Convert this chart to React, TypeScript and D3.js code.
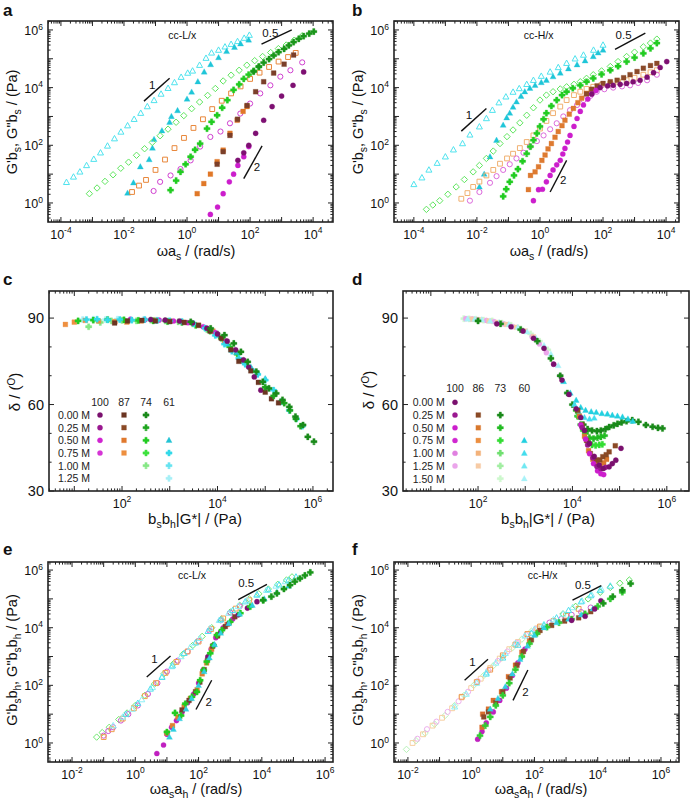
import React from "react";
import * as d3 from "d3";

type Pt = [number, number];

// ---------------- Panel a (cc-L/x, shifted by a_s, b_s) ----------------
const aCyanOpen: Pt[] = [[1.5e-4,5.2],[2.5e-4,8],[4e-4,12],[6.5e-4,20],[1.1e-3,33],[1.8e-3,55],[3e-3,95],[5e-3,170],[8e-3,290],[1.3e-2,480],[2.1e-2,800],[3.4e-2,1300],[5.5e-2,2200],[9e-2,3600],[0.15,6000],[0.25,9500],[0.4,1.5e4],[0.65,2.3e4],[1.05,3.2e4],[1.5,3.8e4],[2.5,6e4],[4,1.05e5],[6,1.6e5],[10,2e5],[16,2.6e5],[25,3.2e5],[40,4e5],[65,5.2e5],[95,6.6e5]];
const aCyanFilled: Pt[] = [[1.3e-2,2.2],[2e-2,5],[3.3e-2,18],[6.3e-2,32],[8e-2,80],[9e-2,160],[0.16,320],[0.28,630],[0.32,1000],[0.5,1600],[1,4000],[1.4,7000],[2.2,1.6e4],[3.5,3.5e4],[5.6,6.3e4],[10,1.1e5],[18,1.8e5],[32,2.5e5],[50,3.3e5],[90,4.5e5]];
const aGreenOpen: Pt[] = [[8e-4,2.1],[1.4e-3,3.3],[2.5e-3,5.6],[4.5e-3,9.5],[7.9e-3,16],[1.4e-2,26],[2.5e-2,45],[4.5e-2,76],[7.9e-2,126],[0.14,214],[0.25,363],[0.45,630],[0.79,1070],[1.4,1860],[2.5,3160],[4.5,5370],[7.9,9330],[14,1.7e4],[25,2.7e4],[45,4e4],[79,6e4],[140,8.6e4],[250,1.2e5],[450,1.65e5],[790,2.25e5],[1400,3e5],[2500,4.4e5],[4500,6.3e5]];
const aGreenFilled: Pt[] = [[0.3,2.8],[0.45,6],[0.62,12],[0.9,22],[1.3,40],[1.8,70],[2.6,115],[4.3,380],[6,650],[9,1100],[13,2000],[19,3700],[30,8300],[45,1.3e4],[63,2e4],[90,2.8e4],[130,3.8e4],[190,5.2e4]];
const aDkGreenFilled: Pt[] = [[130,3.6e4],[190,5.4e4],[270,7.4e4],[400,9.8e4],[560,1.3e5],[800,1.7e5],[1200,2.2e5],[1700,2.9e5],[2400,3.8e5],[3500,4.9e5],[5000,6.1e5],[7500,7.5e5],[1.05e4,8.8e5]];
const aOrangeOpen: Pt[] = [[1.8e-2,2.4],[3e-2,4],[5e-2,6.3],[0.1,14],[0.2,32],[0.4,80],[0.8,180],[1.6,400],[3.2,800],[6.3,1800],[12.6,3500],[25,6300],[50,1.1e4],[100,2e4],[200,3.3e4],[400,5.2e4],[800,8e4],[1600,1.15e5],[2800,1.6e5]];
const aOrangeFilled: Pt[] = [[2.1,2.1],[3.4,4.7],[5.5,10],[9,27],[14,68],[23,260],[39,740],[60,1500],[80,2200]];
const aBrownFilled: Pt[] = [[9,22],[14,60],[23,220],[40,800],[80,2400],[150,7200],[270,1.6e4],[560,3.2e4],[1200,6.5e4],[2400,1.35e5]];
const aMagentaOpen: Pt[] = [[8.7e-2,2.6],[0.14,5.4],[0.3,9],[0.62,15],[1.3,30],[2.6,90],[5.5,195],[11.5,300],[23,580],[49,1260],[100,2800],[210,6300],[440,1.2e4],[910,2.4e4],[1900,4e4],[4500,7.5e4]];
const aMagentaFilled: Pt[] = [[5.5,0.4],[9.3,0.72],[14,2.1],[22,5.4],[30,10],[41,20],[63,40],[91,90]];
const aPurpleFilled: Pt[] = [[41,30],[63,55],[91,100],[150,260],[270,740],[500,2200],[1000,5100],[2300,1.2e4],[5000,3.5e4]];

// ---------------- Panel b (cc-H/x) ----------------
const bCyanOpen: Pt[] = [[1e-4,4.4],[1.8e-4,7.5],[3e-4,14],[5.5e-4,24],[1e-3,40],[1.8e-3,70],[3.5e-3,115],[6e-3,230],[1.2e-2,440],[2e-2,850],[3.1e-2,1650],[5e-2,3000],[8.3e-2,4800],[0.14,7000],[0.22,9300],[0.38,1.3e4],[0.62,1.8e4],[1.1,2.5e4],[2.1,3.5e4],[3.8,5e4],[7,7e4],[13,1e5],[24,1.35e5],[50,2e5],[100,3e5]];
const bCyanFilled: Pt[] = [[1.2e-2,3.6],[1.7e-2,10],[2.6e-2,40],[4.2e-2,150],[6.8e-2,500],[8.8e-2,900],[0.11,1300],[0.14,2100],[0.18,3200],[0.25,5000],[0.33,7200],[0.48,9500],[0.7,1.2e4],[1.1,1.5e4],[1.6,1.8e4],[2.6,2.4e4],[4.4,3.2e4],[8,4.5e4],[15,6.2e4],[27,8.5e4],[49,1.2e5],[70,1.6e5],[100,2e5]];
const bGreenOpen: Pt[] = [[2.5e-4,0.6],[4e-4,0.85],[6.6e-4,1.2],[1.2e-3,2],[2.2e-3,3.6],[4e-3,6.5],[7.6e-3,12],[1.2e-2,20],[2e-2,35],[3.3e-2,63],[5.4e-2,115],[9e-2,200],[0.14,340],[0.23,600],[0.38,1100],[0.62,2000],[1,3700],[1.6,5500],[2.6,7200],[4.4,9000],[7,1.07e4],[12,1.3e4],[19,1.6e4],[30,2.1e4],[49,2.8e4],[90,3.8e4],[170,5.4e4],[300,8e4],[560,1.2e5],[1000,1.7e5],[1900,2.6e5],[3200,3.5e5],[5100,4.8e5]];
const bGreenFilled: Pt[] = [[6.8e-2,1.7],[8.5e-2,3],[0.11,5.4],[0.15,9],[0.2,15],[0.28,28],[0.38,51],[0.5,90],[0.62,150],[0.8,260],[1,450],[1.3,800],[1.6,1300],[2.3,2300],[3.4,3700],[5,5500],[7,7200],[11,9500],[19,1.2e4],[30,1.6e4],[49,2.1e4],[90,2.9e4],[170,4e4],[300,5.5e4],[560,8e4],[1000,1.1e5],[1900,1.55e5],[3200,2.3e5],[5100,3.5e5]];
const bOrangeOpen: Pt[] = [[3.2e-3,1.4],[5e-3,2.2],[7.6e-3,3.6],[1.2e-2,5.5],[2e-2,9],[3.3e-2,14],[5.4e-2,23],[9e-2,35],[0.14,51],[0.23,80],[0.38,130],[0.62,220],[1,380],[1.6,700],[2.6,1300],[4.4,2200],[7,3700],[12,5500],[19,7200],[30,9000],[49,1.07e4],[90,1.25e4],[170,1.4e4],[300,1.6e4],[560,1.8e4],[1000,2.2e4],[1900,2.8e4],[3200,3.4e4],[5100,4e4]];
const bOrangeFilled: Pt[] = [[0.43,2.9],[0.5,9],[0.7,12],[0.9,18],[1.15,30],[1.45,46],[1.8,75],[2.3,115],[3,190],[3.8,300],[5,480],[6.2,740],[8.5,1200],[11.5,1900],[16,3000],[21,4300],[30,6300],[44,8700]];
const bBrownFilled: Pt[] = [[30,6000],[44,8700],[65,1.15e4],[100,1.4e4],[170,1.6e4],[280,1.8e4],[450,2.2e4],[720,2.8e4],[1200,3.6e4],[1900,4.7e4],[3200,5.8e4],[5100,6.9e4]];
const bMagentaOpen: Pt[] = [[6e-3,1.2],[1.2e-2,2.4],[2.6e-2,5],[4.2e-2,8.5],[6.8e-2,14],[0.11,22],[0.18,35],[0.3,55],[0.48,90],[0.8,140],[1.3,220],[2.1,360],[3.4,580],[5.5,1000],[9,1650],[15,2500],[24,3700],[40,5200],[63,7200],[110,8800],[210,1e4],[400,1.1e4],[720,1.2e4],[1300,1.45e4],[2500,1.8e4],[5100,2.8e4]];
const bMagentaFilled: Pt[] = [[0.62,1.2],[0.9,2.9],[1.2,3],[1.6,5.4],[2.1,9],[2.6,14],[3.4,21],[4.4,30],[5.3,50],[6.2,78],[7.5,130],[9,220],[12,450],[15,850],[19,1500],[24,2500],[33,4000],[44,6000],[60,8000]];
const bPurpleFilled: Pt[] = [[44,6000],[81,1e4],[140,1.15e4],[210,1.2e4],[350,1.3e4],[560,1.4e4],[900,1.6e4],[1500,1.8e4],[2500,2.3e4],[4000,3.3e4],[6500,5e4],[1.05e4,8e4]];

// ---------------- Panel c (delta vs bs bh |G*|, cc-L/x) ----------------
const cOrange: Pt[] = [[6.5,87.8],[10,88.6],[17,89.2],[32,89],[71,88.8],[126,88.6],[250,89],[500,89.3],[1000,89],[2000,88.5],[4000,87.5],[8000,85.5],[1.4e4,82],[2.5e4,78]];
const cBrown: Pt[] = [[70,88.3],[130,89],[260,89.2],[500,89],[1000,88.8],[2000,88.5],[4000,87.5],[7000,85.5],[1.2e4,83],[1.9e4,79],[2.8e4,75],[5e4,71.7],[7.2e4,67.7],[1e5,64.3],[1.35e5,62],[1.9e5,60.6]];
const cPurple: Pt[] = [[400,89.5],[800,89.3],[1600,89],[3000,88.3],[6000,86.5],[1e4,84.5],[1.6e4,82],[2.4e4,79],[3.5e4,75.5],[4.5e4,73],[5.9e4,69.6],[8.1e4,65]];
const cMagenta: Pt[] = [[150,89.6],[300,89.4],[600,89.3],[1200,89],[2400,88.4],[5000,87],[9000,85],[1.5e4,82]];
const cGreen: Pt[] = [[12,89],[25,89.3],[50,89.5],[110,89.4],[220,89.2],[450,89],[900,88.8],[1800,88.5],[3500,87.5],[7000,85.5],[1.2e4,83],[1.8e4,80],[2.6e4,77.5],[3.6e4,75]];
const cLtGreen: Pt[] = [[20,87],[35,88.5],[60,89],[100,89.2],[200,89],[400,89.3],[800,89],[1500,88.7],[3000,88],[6000,86],[1e4,84.5]];
const cDkGreen: Pt[] = [[2750,88.7],[7200,86.4],[1.4e4,84.1],[2.2e4,81.2],[3.1e4,78.3],[4.3e4,74.8],[6.5e4,71.4],[8.9e4,67.9],[1.2e5,65.6],[1.7e5,63.9],[2.3e5,61.6],[3.2e5,59.2],[4.3e5,55.8],[6.2e5,52.9],[7.8e5,48.8],[1.05e6,47.1]];
const cGreen25: Pt[] = [[1e5,66],[1.5e5,63],[2.5e5,60.5],[3.3e5,58],[4.4e5,55],[5.5e5,52.5]];
const cCyan: Pt[] = [[18,89.5],[30,89.6],[50,89.4],[90,89.5],[160,89.3],[300,89.5],[550,89.2],[1000,89],[1800,88.8],[3200,88],[5500,86.5],[9000,84],[1.4e4,81],[2e4,78.5],[2.8e4,76],[3.8e4,74],[5.2e4,72],[7e4,70.5],[1e5,68.5],[1.5e5,65],[2.2e5,61],[3.2e5,58],[4.5e5,55],[6e5,52.5]];
const cLtCyan: Pt[] = [[15,89.5],[25,89.6],[45,89.5],[80,89.6],[150,89.5],[280,89.4],[500,89.2],[900,89]];
const cCyanTri: Pt[] = [[1e4,84],[1.6e4,81],[2.5e4,78],[3.6e4,75],[5e4,73],[7e4,71],[1e5,69]];

// ---------------- Panel d (delta vs bs bh |G*|, cc-H/x) ----------------
const dPink: Pt[] = [[55,89.8],[75,89.7],[100,89.5],[150,89.2],[220,88.8],[350,88],[550,87],[900,85.5],[1400,83.5],[2000,81],[2800,78],[4000,74],[5500,70]];
const dLtOrange: Pt[] = [[75,89.6],[110,89.4],[170,89],[260,88.5],[400,87.8],[650,86.8],[1000,85.5],[1500,83.5]];
const dLtGreen: Pt[] = [[50,89.8],[65,89.7],[90,89.6],[130,89.3],[200,89],[320,88.3],[500,87.5],[800,86.3],[1300,84.5],[2000,82],[3000,79]];
const dLtCyan: Pt[] = [[60,89.7],[85,89.6],[120,89.4],[180,89],[280,88.5],[450,87.8],[700,86.8],[1100,85.2],[1700,83],[2500,80.5],[3500,77.5],[5000,73.5]];
const dPurple0: Pt[] = [[250,88],[500,87],[900,85.5],[1500,83],[2500,79.5],[4000,74],[6000,68.5],[8500,63.5],[1.2e4,58.5],[1.5e4,55.5],[1.8e4,51],[2.3e4,46.5],[2.9e4,42],[3.7e4,39],[4.5e4,37.8],[6e4,38.4],[7e4,39.5],[8.3e4,40.7],[1.07e5,44.8]];
const dMagenta: Pt[] = [[1.5e4,53],[1.9e4,48],[2.3e4,43],[2.8e4,39.5],[3.4e4,37],[4e4,36],[4.6e4,35.7]];
const dPurple25: Pt[] = [[1.6e4,52],[2.1e4,46],[2.7e4,41.5],[3.3e4,38.5],[4e4,37.8],[5e4,38.2]];
const dBrown: Pt[] = [[1.3e4,58],[1.6e4,53],[2e4,47.5],[2.4e4,43],[3.2e4,40.7],[3.8e4,40.8],[4.4e4,41.9],[5.2e4,42.6],[6e4,43.6],[8.1e4,45.7]];
const dOrange: Pt[] = [[1.4e4,56],[1.8e4,49],[2.2e4,44],[2.7e4,41],[3.2e4,39.5],[3.9e4,39],[4.6e4,39.8],[5.3e4,41]];
const dDkGreen: Pt[] = [[100,89],[300,88],[800,86],[1800,82],[3500,76],[5500,70],[7800,64],[1e4,60],[1.3e4,56],[1.7e4,53],[2.1e4,51.5],[2.6e4,51],[3.3e4,50.8],[4e4,51],[5e4,51.5],[6e4,52.2],[7.5e4,52.8],[9e4,53.3],[1.1e5,53.8],[1.4e5,54.2],[1.85e5,54.6],[2.5e5,54],[3.6e5,52.9],[5e5,52.3],[6.5e5,51.9],[8.1e5,51.7]];
const dGreen50: Pt[] = [[1.2e4,58],[1.5e4,53],[1.9e4,50],[2.3e4,48.5],[2.8e4,48.2],[3.4e4,48.5],[4e4,48.8],[4.8e4,49.2]];
const dGreen75: Pt[] = [[1.3e4,56],[1.7e4,51],[2.1e4,47.5],[2.6e4,46],[3.1e4,45.8],[3.7e4,46],[4.3e4,46.2]];
const dCyanTri: Pt[] = [[6500,68],[9000,64],[1.2e4,61.5],[1.5e4,59],[1.9e4,58],[2.5e4,57.5],[3.2e4,57.3],[4.2e4,56.9],[5.5e4,56.7],[7e4,56.3],[9e4,56],[1.15e5,55.7],[1.5e5,55],[1.9e5,54.2]];
const dCyan100: Pt[] = [[1.1e4,60],[1.4e4,57],[1.8e4,55.5],[2.3e4,55],[2.9e4,55.3]];

// ---------------- Panel e (master curves cc-L/x) ----------------
const eGreenOpen: Pt[] = [[6e-2,1.6],[9e-2,2.3],[0.15,3.5],[0.3,6.5],[0.55,11],[1,20],[2,45],[4,110],[8,250],[16,560],[32,1200],[65,2400],[130,5000],[260,1e4],[520,2e4],[1000,3.5e4],[2000,6e4],[4000,1e5],[8000,1.5e5],[1.6e4,2.2e5],[3.2e4,3.2e5],[6e4,4.5e5],[9e4,5.8e5]];
const eMagentaOpen: Pt[] = [[0.1,1.8],[0.14,2.6],[0.2,3.5],[0.35,6],[0.6,10],[1.2,20],[2.5,50],[5,120],[10,300],[22,720],[45,1500],[100,3500],[220,8000],[500,1.8e4],[1000,3.3e4],[2000,5.5e4]];
const eOrangeOpen: Pt[] = [[0.1,1.6],[0.18,3],[0.4,7],[0.9,16],[2,42],[4.5,120],[9,270],[20,650],[45,1500],[100,3300],[250,9000],[600,2.1e4],[1500,4.6e4],[4000,9e4]];
const eCyanOpen: Pt[] = [[0.5,10],[1.2,24],[3,75],[7,190],[15,480],[35,1300],[80,3000],[200,7500],[500,1.9e4],[1200,4e4],[3000,8e4],[7000,1.4e5],[1.6e4,2.1e5],[3.5e4,3.1e5],[7e4,4.5e5],[1.2e5,5.8e5]];
const eLtCyanOpen: Pt[] = [[0.2,4],[0.4,8],[0.8,15],[1.6,32],[3.5,85],[7,200],[14,450],[28,1000],[55,2100],[110,4300],[230,9500],[450,1.8e4],[900,3.2e4],[1800,5.5e4],[3500,9e4],[7000,1.35e5],[1.4e4,2e5],[2.8e4,2.8e5],[5.5e4,4e5]];
const eMagentaFilled: Pt[] = [[4.8,0.43],[7.8,0.85],[10,2],[14,3.5],[20,6],[30,12],[45,25],[70,50],[100,120],[140,330],[190,800],[250,1800],[350,4500],[600,1e4],[1200,2e4]];
const ePurpleFilled: Pt[] = [[200,1000],[300,2500],[500,7000],[900,1.4e4],[1800,2.8e4],[3500,4.8e4],[7000,8e4]];
const eOrangeFilled: Pt[] = [[10,2.2],[15,4],[22,8],[35,18],[55,35],[90,70],[130,250],[180,600],[260,1800],[400,5500],[800,1.3e4]];
const eBrownFilled: Pt[] = [[30,14],[50,30],[80,60],[110,130],[150,350],[200,900],[280,2300],[400,5200],[700,1.1e4],[1400,2.4e4]];
const eGreenFilled: Pt[] = [[10,2.4],[18,11],[28,9],[38,23],[62,40],[89,59],[112,150],[145,340],[182,660],[234,1300],[295,2500],[380,5500],[550,8300],[1000,1.6e4],[2100,3.2e4],[4300,5.4e4],[1.1e4,9e4]];
const eDkGreenFilled: Pt[] = [[1.1e4,9e4],[2e4,1.2e5],[3e4,1.55e5],[5e4,2.2e5],[7.8e4,3e5],[1.1e5,4e5],[1.6e5,5.1e5],[2.3e5,6.5e5],[3.4e5,8.3e5]];
const eCyanFilled: Pt[] = [[12,1.6],[16,3],[25,7],[40,15],[60,35],[100,100],[150,300],[220,900],[320,2600],[500,6500],[900,1.4e4],[2000,3e4],[5000,6e4],[1.2e4,1e5],[3e4,1.7e5],[7e4,2.8e5]];

// ---------------- Panel f (master curves cc-H/x) ----------------
const fPaleGreenOpen: Pt[] = [[9e-3,0.6],[1.8e-2,1.2],[3.5e-2,2.2],[7e-2,4.5],[0.15,9],[0.3,20],[0.6,45],[1.2,100],[2.5,220],[5,480],[10,1000],[20,2000],[40,4000],[80,7500],[150,1e4]];
const fPaleOrangeOpen: Pt[] = [[1.4e-2,1],[3e-2,2],[6e-2,4],[0.12,7.5],[0.25,16],[0.5,38],[1,80],[2,170],[4,400],[8,850],[16,1800],[30,3200],[60,6000],[120,9500]];
const fPalePinkOpen: Pt[] = [[2e-2,1.4],[4e-2,3],[8e-2,5.5],[0.18,12],[0.4,28],[0.8,60],[1.6,140],[3.5,330],[7,700],[14,1500],[28,3000],[55,5500],[110,9000]];
const fOrangeOpen: Pt[] = [[0.5,40],[1.5,130],[4,350],[10,1100],[25,2600],[60,6000],[150,1.1e4],[400,1.7e4],[1000,2.6e4],[2500,4.5e4]];
const fMagentaOpen: Pt[] = [[300,1.5e4],[700,2e4],[1500,2.8e4],[3000,3.5e4],[6000,5e4]];
const fCyanOpen: Pt[] = [[3,250],[10,900],[30,2500],[80,6500],[200,1.2e4],[500,2.2e4],[1200,4e4],[3000,8e4],[6000,1.3e5],[1.2e4,2e5],[2.5e4,2.8e5]];
const fLtCyanOpen: Pt[] = [[0.3,18],[0.7,50],[1.5,120],[3,280],[6,600],[12,1300],[25,2800],[50,5200],[100,8800],[200,1.3e4],[400,1.9e4],[800,3e4],[1600,5e4],[3200,8.5e4],[6400,1.4e5],[1.3e4,2.2e5]];
const fGreenOpen: Pt[] = [[800,3e4],[2000,5.5e4],[5000,1e5],[1.2e4,1.7e5],[2.5e4,2.5e5],[5e4,3.5e5],[1e5,4.5e5]];
const fMagentaFilled: Pt[] = [[1.6,1.35],[2.2,2.5],[3,5],[5,12],[8,30],[13,80],[20,220],[30,600],[50,1800]];
const fOrangeFilled: Pt[] = [[2.2,3.5],[2.3,10],[3.5,15],[5,30],[9,60],[15,200],[25,500],[40,1400],[70,3500],[130,7000]];
const fBrownFilled: Pt[] = [[2.5,8],[3.5,12],[6,25],[10,60],[17,180],[28,500],[45,1500],[80,3800],[150,8000],[350,1.2e4],[900,1.7e4],[2500,2.2e4],[6000,3.6e4]];
const fGreenFilled: Pt[] = [[1.9,1.8],[2.8,4],[4,8],[6,20],[10,45],[16,120],[25,350],[40,1000],[70,2800],[120,6300],[250,1.05e4],[600,1.5e4],[1500,2e4],[4000,3e4],[1e4,5.5e4],[2.5e4,1e5],[6e4,1.7e5]];
const fDkGreenFilled: Pt[] = [[1.5e4,7e4],[3e4,1.2e5],[6e4,2e5],[1.1e5,3.4e5]];
const fCyanFilled: Pt[] = [[4,15],[7,35],[12,90],[20,250],[35,800],[60,2300],[100,5500],[200,1e4],[500,1.5e4],[1200,2e4],[3000,2.8e4],[7000,4.5e4]];
const fPurpleFilled: Pt[] = [[1500,1.8e4],[4000,2.5e4],[8000,4.5e4],[1.26e4,8.6e4]];

// ---------------- slope guides & notes (data coordinates) ----------------
const aSlopes = [
  { p1: [0.043, 3400] as Pt, p2: [0.28, 2.1e4] as Pt, label: "1", at: [0.078, 1.2e4] as Pt },
  { p1: [230, 3.2e5] as Pt, p2: [2100, 1e6] as Pt, label: "0.5", at: [440, 7.7e5] as Pt },
  { p1: [63, 7] as Pt, p2: [240, 95] as Pt, label: "2", at: [165, 18] as Pt },
];
const bSlopes = [
  { p1: [3.2e-3, 310] as Pt, p2: [2e-2, 1900] as Pt, label: "1", at: [5.6e-3, 1100] as Pt },
  { p1: [240, 2.1e5] as Pt, p2: [2200, 7.8e5] as Pt, label: "0.5", at: [450, 6.7e5] as Pt },
  { p1: [2.1, 2.4] as Pt, p2: [7, 30] as Pt, label: "2", at: [5.5, 6.2] as Pt },
];
const eSlopes = [
  { p1: [2.3, 195] as Pt, p2: [13, 1050] as Pt, label: "1", at: [4, 850] as Pt },
  { p1: [1800, 9.5e4] as Pt, p2: [1.45e4, 3.2e5] as Pt, label: "0.5", at: [3200, 3.5e5] as Pt },
  { p1: [83, 14.5] as Pt, p2: [260, 150] as Pt, label: "2", at: [210, 27] as Pt },
];
const fSlopes = [
  { p1: [0.62, 150] as Pt, p2: [3.4, 810] as Pt, label: "1", at: [1.1, 650] as Pt },
  { p1: [1600, 9e4] as Pt, p2: [1.3e4, 2.9e5] as Pt, label: "0.5", at: [3400, 3e5] as Pt },
  { p1: [21, 30] as Pt, p2: [62, 340] as Pt, label: "2", at: [52, 59] as Pt },
];

// ---------------- tick labels ----------------
const abXTicks = [1e-4, 1e-2, 1, 1e2, 1e4];
const modYTicks = [1, 1e2, 1e4, 1e6];
const cdXTicks = [1e2, 1e4, 1e6];
const cdYTicks = [30, 60, 90];
const cdYMinor = [40, 50, 70, 80];
const efXTicks = [1e-2, 1, 1e2, 1e4, 1e6];

// ---------------- legends ----------------
const cConc = ["100", "87", "74", "61"];
const cSalt = ["0.00 M", "0.25 M", "0.50 M", "0.75 M", "1.00 M", "1.25 M"];
const cHas = [[1,1,1,0],[1,1,1,0],[1,1,1,1],[1,1,1,1],[0,0,1,1],[0,0,0,1]];
const dConc = ["100", "86", "73", "60"];
const dSalt = ["0.00 M", "0.25 M", "0.50 M", "0.75 M", "1.00 M", "1.25 M", "1.50 M"];
const dHas = [[1,0,0,0],[1,1,1,0],[1,1,1,0],[1,1,1,1],[1,1,1,1],[1,1,1,1],[0,0,1,1]];

// ======================= drawing =======================
const FONT = "'Liberation Sans', Arial, Helvetica, sans-serif";
type Shape = "circle" | "square" | "tri" | "cross" | "diamond";
interface Ser { d: Pt[]; s: Shape; c: string; open?: boolean }

const SHAPES: Record<Shape, string> = {
  circle: d3.symbol().type(d3.symbolCircle).size(21)() as string,
  square: "M-2.4,-2.4H2.4V2.4H-2.4Z",
  tri: "M0,-3.2L3,2.2H-3Z",
  diamond: "M0,-3.2L3.2,0L0,3.2L-3.2,0Z",
  cross: "M-1.15,-3.1H1.15V-1.15H3.1V1.15H1.15V3.1H-1.15V1.15H-3.1V-1.15H-1.15Z M0,-2.5L2.5,0L0,2.5L-2.5,0Z",
};

const C = {
  cyanL: "#4FE3EE", cyan: "#1FC6D8",
  greenL: "#5EE65E", green: "#22CC22", dkGreen: "#1A961A",
  orange: "#E8873A", orangeF: "#E07828", brown: "#7B3F2A",
  magenta: "#D040D0", magentaF: "#CC1ECC", purple: "#7E1072",
};

interface Slope { p1: Pt; p2: Pt; label: string; at: Pt }
interface Cfg {
  key: string; letter: string; lx: number; ly: number;
  x0: number; x1: number; y0: number; y1: number;
  xDom: [number, number]; yDom: [number, number]; yLog: boolean;
  xLabels: number[]; yLabels: number[]; yMinor?: number[];
  series: Ser[]; slopes?: Slope[]; note?: { text: string; at: Pt };
  xTitle: React.ReactNode; yTitle: React.ReactNode; titleFs: number;
  xTitleX: number; xTitleY: number; yTitleX: number; yTitleY: number;
  legend?: { conc: string[]; salt: string[]; has: number[][]; colors: string[][]; shapes: Shape[][];
    lx: number; hy: number; ry: number; dy: number; cols: number[] };
}

function logTicks(dom: [number, number]) {
  const lo = Math.log10(dom[0]), hi = Math.log10(dom[1]);
  const majors: number[] = [], minors: number[] = [];
  for (let e = Math.floor(lo); e <= Math.ceil(hi); e++) {
    const m = Math.pow(10, e);
    if (m >= dom[0] && m <= dom[1]) majors.push(m);
    for (let k = 2; k <= 9; k++) {
      const v = k * m;
      if (v >= dom[0] && v <= dom[1]) minors.push(v);
    }
  }
  return { majors, minors };
}

function Pow({ v, x, y, anchor, fs }: { v: number; x: number; y: number; anchor: string; fs: number }) {
  const e = Math.round(Math.log10(v));
  return (
    <text x={x} y={y} textAnchor={anchor} fontSize={fs} fill="#111">
      <tspan>10</tspan>
      <tspan dy={-fs * 0.42} fontSize={fs * 0.68}>{String(e)}</tspan>
    </text>
  );
}

function Panel({ cfg }: { cfg: Cfg }) {
  const { x0, x1, y0, y1 } = cfg;
  const xs = d3.scaleLog().domain(cfg.xDom).range([x0, x1]);
  const ys: any = cfg.yLog
    ? d3.scaleLog().domain(cfg.yDom).range([y1, y0])
    : d3.scaleLinear().domain(cfg.yDom).range([y1, y0]);
  const xt = logTicks(cfg.xDom);
  const yt = cfg.yLog ? logTicks(cfg.yDom) : { majors: cfg.yLabels, minors: cfg.yMinor || [] };
  const TM = 5, Tm = 2.6;
  const clip = "clip-" + cfg.key;
  const lines: React.ReactNode[] = [];
  xt.majors.forEach((v, i) => {
    const X = xs(v);
    lines.push(<line key={"xM" + i} x1={X} x2={X} y1={y1} y2={y1 - TM} />);
    lines.push(<line key={"xMt" + i} x1={X} x2={X} y1={y0} y2={y0 + TM} />);
  });
  xt.minors.forEach((v, i) => {
    const X = xs(v);
    lines.push(<line key={"xm" + i} x1={X} x2={X} y1={y1} y2={y1 - Tm} />);
    lines.push(<line key={"xmt" + i} x1={X} x2={X} y1={y0} y2={y0 + Tm} />);
  });
  yt.majors.forEach((v, i) => {
    const Y = ys(v);
    lines.push(<line key={"yM" + i} x1={x0} x2={x0 + TM} y1={Y} y2={Y} />);
    lines.push(<line key={"yMr" + i} x1={x1} x2={x1 - TM} y1={Y} y2={Y} />);
  });
  yt.minors.forEach((v, i) => {
    const Y = ys(v);
    lines.push(<line key={"ym" + i} x1={x0} x2={x0 + Tm} y1={Y} y2={Y} />);
    lines.push(<line key={"ymr" + i} x1={x1} x2={x1 - Tm} y1={Y} y2={Y} />);
  });

  return (
    <g>
      <defs>
        <clipPath id={clip}><rect x={x0} y={y0} width={x1 - x0} height={y1 - y0} /></clipPath>
      </defs>
      <g clipPath={`url(#${clip})`}>
        {cfg.series.map((s, si) => (
          <g key={si} fill={s.open ? "none" : s.c} stroke={s.c} strokeWidth={s.open ? 1 : 0.3}>
            {s.d.map((p, pi) => (
              <path key={pi} d={SHAPES[s.s]} transform={`translate(${xs(p[0]).toFixed(2)},${ys(p[1]).toFixed(2)})`} />
            ))}
          </g>
        ))}
        {(cfg.slopes || []).map((sl, i) => (
          <g key={"sl" + i}>
            <line x1={xs(sl.p1[0])} y1={ys(sl.p1[1])} x2={xs(sl.p2[0])} y2={ys(sl.p2[1])} stroke="#111" strokeWidth={1.4} />
            <text x={xs(sl.at[0])} y={ys(sl.at[1])} dy={4} textAnchor="middle" fontSize={11.5} fill="#111">{sl.label}</text>
          </g>
        ))}
        {cfg.note && (
          <text x={xs(cfg.note.at[0])} y={ys(cfg.note.at[1])} dy={4} textAnchor="middle" fontSize={10.5} fill="#111">{cfg.note.text}</text>
        )}
      </g>
      {cfg.legend && (() => {
        const L = cfg.legend!;
        return (
          <g fontSize={10.5} fill="#222">
            {L.conc.map((t, j) => (
              <text key={"h" + j} x={L.cols[j]} y={L.hy + 4} textAnchor="middle">{t}</text>
            ))}
            {L.salt.map((t, r) => (
              <g key={"r" + r}>
                <text x={L.lx} y={L.ry + r * L.dy + 4}>{t}</text>
                {L.has[r].map((h, j) => h ? (
                  <path key={j} d={SHAPES[L.shapes[j][r]]} fill={L.colors[j][r]} stroke={L.colors[j][r]} strokeWidth={0.3}
                    transform={`translate(${L.cols[j]},${L.ry + r * L.dy})`} />
                ) : null)}
              </g>
            ))}
          </g>
        );
      })()}
      <g stroke="#222" strokeWidth={1}>{lines}</g>
      <rect x={x0} y={y0} width={x1 - x0} height={y1 - y0} fill="none" stroke="#222" strokeWidth={1.6} />
      {cfg.xLabels.map((v, i) => (
        <Pow key={"xl" + i} v={v} x={xs(v)} y={y1 + 16.5} anchor="middle" fs={12.5} />
      ))}
      {cfg.yLog
        ? cfg.yLabels.map((v, i) => <Pow key={"yl" + i} v={v} x={x0 - 5} y={ys(v) + 5} anchor="end" fs={12.5} />)
        : cfg.yLabels.map((v, i) => (
            <text key={"yl" + i} x={x0 - 5} y={ys(v) + 5} textAnchor="end" fontSize={14.5} fill="#111">{String(v)}</text>
          ))}
      <text x={cfg.xTitleX} y={cfg.xTitleY} textAnchor="middle" fontSize={cfg.titleFs} fill="#111">{cfg.xTitle}</text>
      <text transform={`translate(${cfg.yTitleX},${cfg.yTitleY}) rotate(-90)`} textAnchor="middle" fontSize={cfg.titleFs} fill="#111">{cfg.yTitle}</text>
      <text x={cfg.lx} y={cfg.ly} fontSize={17} fontWeight="bold" fill="#111">{cfg.letter}</text>
    </g>
  );
}

export default function App() {
  const xTitleAB = (<><tspan>ωa</tspan><tspan dy={4} fontSize={10.5}>s</tspan><tspan dy={-4}> / (rad/s)</tspan></>);
  const yTitleAB = (<><tspan>G'b</tspan><tspan dy={4} fontSize={10.5}>s</tspan><tspan dy={-4}>, G"b</tspan><tspan dy={4} fontSize={10.5}>s</tspan><tspan dy={-4}> / (Pa)</tspan></>);
  const xTitleCD = (<><tspan>b</tspan><tspan dy={4} fontSize={10.5}>s</tspan><tspan dy={-4}>b</tspan><tspan dy={4} fontSize={10.5}>h</tspan><tspan dy={-4}>|G*| / (Pa)</tspan></>);
  const yTitleCD = (<><tspan>δ / (</tspan><tspan dy={-5} fontSize={10}>O</tspan><tspan dy={5}>)</tspan></>);
  const xTitleEF = (<><tspan>ωa</tspan><tspan dy={4} fontSize={10.5}>s</tspan><tspan dy={-4}>a</tspan><tspan dy={4} fontSize={10.5}>h</tspan><tspan dy={-4}> / (rad/s)</tspan></>);
  const yTitleEF = (<><tspan>G'b</tspan><tspan dy={4} fontSize={10}>s</tspan><tspan dy={-4}>b</tspan><tspan dy={4} fontSize={10}>h</tspan><tspan dy={-4}>, G"b</tspan><tspan dy={4} fontSize={10}>s</tspan><tspan dy={-4}>b</tspan><tspan dy={4} fontSize={10}>h</tspan><tspan dy={-4}> / (Pa)</tspan></>);

  const aSeries: Ser[] = [
    { d: aCyanOpen, s: "tri", c: C.cyanL, open: true },
    { d: aCyanFilled, s: "tri", c: C.cyan },
    { d: aGreenOpen, s: "diamond", c: C.greenL, open: true },
    { d: aOrangeOpen, s: "square", c: C.orange, open: true },
    { d: aMagentaOpen, s: "circle", c: C.magenta, open: true },
    { d: aGreenFilled, s: "cross", c: C.green },
    { d: aDkGreenFilled, s: "cross", c: C.dkGreen },
    { d: aOrangeFilled, s: "square", c: C.orangeF },
    { d: aBrownFilled, s: "square", c: C.brown },
    { d: aMagentaFilled, s: "circle", c: C.magentaF },
    { d: aPurpleFilled, s: "circle", c: C.purple },
  ];
  const bSeries: Ser[] = [
    { d: bCyanOpen, s: "tri", c: C.cyanL, open: true },
    { d: bCyanFilled, s: "tri", c: C.cyan },
    { d: bGreenOpen, s: "diamond", c: C.greenL, open: true },
    { d: bOrangeOpen, s: "square", c: "#F0B070", open: true },
    { d: bMagentaOpen, s: "circle", c: "#DC6ADC", open: true },
    { d: bGreenFilled, s: "cross", c: C.green },
    { d: bOrangeFilled, s: "square", c: "#DE7A30" },
    { d: bBrownFilled, s: "square", c: "#8B4A2A" },
    { d: bMagentaFilled, s: "circle", c: C.magentaF },
    { d: bPurpleFilled, s: "circle", c: C.purple },
  ];
  const cSeries: Ser[] = [
    { d: cLtCyan, s: "cross", c: "#A6F0F7" },
    { d: cLtGreen, s: "cross", c: "#86E886" },
    { d: cOrange, s: "square", c: "#EE9040" },
    { d: cMagenta, s: "circle", c: "#D024D0" },
    { d: cGreen, s: "cross", c: "#22CC22" },
    { d: cCyanTri, s: "tri", c: "#22C3D4" },
    { d: cCyan, s: "cross", c: "#33D9E9" },
    { d: cPurple, s: "circle", c: "#7A106E" },
    { d: cBrown, s: "square", c: "#6B3522" },
    { d: cGreen25, s: "cross", c: "#1FA51F" },
    { d: cDkGreen, s: "cross", c: "#1A8A1A" },
  ];
  const dSeries: Ser[] = [
    { d: dLtGreen, s: "cross", c: "#CDF8CD" },
    { d: dPink, s: "circle", c: "#EBA5EB" },
    { d: dLtOrange, s: "square", c: "#F7CBA5" },
    { d: dLtCyan, s: "tri", c: "#A8F2F8" },
    { d: dDkGreen, s: "cross", c: "#1A8A1A" },
    { d: dGreen50, s: "cross", c: "#22BB22" },
    { d: dGreen75, s: "cross", c: "#33DD33" },
    { d: dCyanTri, s: "tri", c: "#22D0E0" },
    { d: dCyan100, s: "tri", c: "#44DDEE" },
    { d: dOrange, s: "square", c: "#D8782E" },
    { d: dBrown, s: "square", c: "#8A4A26" },
    { d: dMagenta, s: "circle", c: "#CC1ECC" },
    { d: dPurple25, s: "circle", c: "#9A1890" },
    { d: dPurple0, s: "circle", c: "#7A106E" },
  ];
  const eSeries: Ser[] = [
    { d: eGreenOpen, s: "diamond", c: "#70E870", open: true },
    { d: eMagentaOpen, s: "circle", c: "#D050D0", open: true },
    { d: eOrangeOpen, s: "square", c: "#F0A050", open: true },
    { d: eLtCyanOpen, s: "tri", c: "#8EEFF5", open: true },
    { d: eCyanOpen, s: "tri", c: "#50E0EE", open: true },
    { d: eMagentaFilled, s: "circle", c: "#C020C0" },
    { d: eOrangeFilled, s: "square", c: "#E08030" },
    { d: eBrownFilled, s: "square", c: "#7B3F2A" },
    { d: ePurpleFilled, s: "circle", c: C.purple },
    { d: eGreenFilled, s: "cross", c: "#22CC22" },
    { d: eCyanFilled, s: "tri", c: "#30D0E0" },
    { d: eDkGreenFilled, s: "cross", c: "#1A961A" },
  ];
  const fSeries: Ser[] = [
    { d: fPaleGreenOpen, s: "diamond", c: "#B8F2B8", open: true },
    { d: fPaleOrangeOpen, s: "square", c: "#F6CFA0", open: true },
    { d: fPalePinkOpen, s: "circle", c: "#EDB0ED", open: true },
    { d: fOrangeOpen, s: "square", c: "#EE9A50", open: true },
    { d: fMagentaOpen, s: "circle", c: "#D060D0", open: true },
    { d: fGreenOpen, s: "diamond", c: "#5EE05E", open: true },
    { d: fLtCyanOpen, s: "tri", c: "#8EEFF5", open: true },
    { d: fCyanOpen, s: "tri", c: "#50E0EE", open: true },
    { d: fMagentaFilled, s: "circle", c: "#C020C0" },
    { d: fOrangeFilled, s: "square", c: "#D87030" },
    { d: fBrownFilled, s: "square", c: "#8B4A2A" },
    { d: fGreenFilled, s: "cross", c: "#33CC33" },
    { d: fCyanFilled, s: "tri", c: "#30D0E0" },
    { d: fPurpleFilled, s: "circle", c: C.purple },
    { d: fDkGreenFilled, s: "cross", c: "#1A961A" },
  ];

  const cColors = [
    ["#7A106E", "#9A1890", "#D024D0", "#D535D5", "", ""],
    ["#6B3522", "#8A4A26", "#E0792E", "#EE9040", "", ""],
    ["#1A8A1A", "#1FA51F", "#22CC22", "#3EE23E", "#86E886", ""],
    ["", "", "#22C3D4", "#33D9E9", "#66E3F0", "#A6F0F7"],
  ];
  const cShapes: Shape[][] = [
    Array(6).fill("circle"), Array(6).fill("square"), Array(6).fill("cross"),
    ["cross", "cross", "tri", "cross", "cross", "cross"],
  ];
  const dColors = [
    ["#7A106E", "#9A1890", "#CC1ECC", "#D028D0", "#E080E0", "#EBA5EB", ""],
    ["", "#8A4A26", "#D8782E", "#EC8E40", "#F3B27A", "#F7CBA5", ""],
    ["", "#1A8A1A", "#22BB22", "#33DD33", "#70E070", "#A2EEA2", "#CDF8CD"],
    ["", "", "", "#22D0E0", "#44DDEE", "#70E8F2", "#A8F2F8"],
  ];
  const dShapes: Shape[][] = [Array(7).fill("circle"), Array(7).fill("square"), Array(7).fill("cross"), Array(7).fill("tri")];

  const panels: Cfg[] = [
    {
      key: "a", letter: "a", lx: 3, ly: 16, x0: 48, x1: 333, y0: 21, y1: 222,
      xDom: [10 ** -4.41, 10 ** 4.63], yDom: [10 ** -0.66, 10 ** 6.31], yLog: true,
      xLabels: abXTicks, yLabels: modYTicks, series: aSeries, slopes: aSlopes,
      note: { text: "cc-L/x", at: [0.7, 6.7e5] }, titleFs: 14.5,
      xTitle: xTitleAB, yTitle: yTitleAB, xTitleX: 196, xTitleY: 256, yTitleX: 17, yTitleY: 122,
    },
    {
      key: "b", letter: "b", lx: 352, ly: 16, x0: 394, x1: 679, y0: 21, y1: 222,
      xDom: [10 ** -4.63, 10 ** 4.41], yDom: [10 ** -0.66, 10 ** 6.31], yLog: true,
      xLabels: abXTicks, yLabels: modYTicks, series: bSeries, slopes: bSlopes,
      note: { text: "cc-H/x", at: [0.9, 6.7e5] }, titleFs: 14.5,
      xTitle: xTitleAB, yTitle: yTitleAB, xTitleX: 549, xTitleY: 256, yTitleX: 363, yTitleY: 122,
    },
    {
      key: "c", letter: "c", lx: 3, ly: 285, x0: 49, x1: 333, y0: 291, y1: 491,
      xDom: [10 ** 0.47, 10 ** 6.42], yDom: [30, 99.4], yLog: false,
      xLabels: cdXTicks, yLabels: cdYTicks, yMinor: cdYMinor, series: cSeries, titleFs: 15,
      xTitle: xTitleCD, yTitle: yTitleCD, xTitleX: 195, xTitleY: 524, yTitleX: 20, yTitleY: 392,
      legend: { conc: cConc, salt: cSalt, has: cHas, colors: cColors, shapes: cShapes, lx: 58, hy: 401.7, ry: 415, dy: 12.66, cols: [100, 124, 146, 169] },
    },
    {
      key: "d", letter: "d", lx: 352, ly: 285, x0: 403, x1: 689, y0: 291, y1: 491,
      xDom: [10 ** 0.41, 10 ** 6.47], yDom: [30, 99.4], yLog: false,
      xLabels: cdXTicks, yLabels: cdYTicks, yMinor: cdYMinor, series: dSeries, titleFs: 15,
      xTitle: xTitleCD, yTitle: yTitleCD, xTitleX: 548, xTitleY: 524, yTitleX: 374, yTitleY: 390,
      legend: { conc: dConc, salt: dSalt, has: dHas, colors: dColors, shapes: dShapes, lx: 412.7, hy: 388.3, ry: 402.3, dy: 12.73, cols: [455, 478.3, 500.3, 524.3] },
    },
    {
      key: "e", letter: "e", lx: 3, ly: 555, x0: 48, x1: 333, y0: 562, y1: 762,
      xDom: [10 ** -2.76, 10 ** 6.25], yDom: [10 ** -0.66, 10 ** 6.28], yLog: true,
      xLabels: efXTicks, yLabels: modYTicks, series: eSeries, slopes: eSlopes,
      note: { text: "cc-L/x", at: [62, 7e5] }, titleFs: 14.5,
      xTitle: xTitleEF, yTitle: yTitleEF, xTitleX: 196, xTitleY: 794, yTitleX: 17, yTitleY: 660,
    },
    {
      key: "f", letter: "f", lx: 352, ly: 555, x0: 394, x1: 679, y0: 562, y1: 762,
      xDom: [10 ** -2.44, 10 ** 6.57], yDom: [10 ** -0.66, 10 ** 6.28], yLog: true,
      xLabels: efXTicks, yLabels: modYTicks, series: fSeries, slopes: fSlopes,
      note: { text: "cc-H/x", at: [180, 7e5] }, titleFs: 14.5,
      xTitle: xTitleEF, yTitle: yTitleEF, xTitleX: 541, xTitleY: 794, yTitleX: 363, yTitleY: 660,
    },
  ];

  return (
    <svg width={692} height={801} viewBox="0 0 692 801" fontFamily={FONT}
      style={{ position: "absolute", left: 0, top: 0, background: "#fff" }}>
      <rect x={0} y={0} width={692} height={801} fill="#fff" />
      {panels.map((p) => <Panel key={p.key} cfg={p} />)}
    </svg>
  );
}
